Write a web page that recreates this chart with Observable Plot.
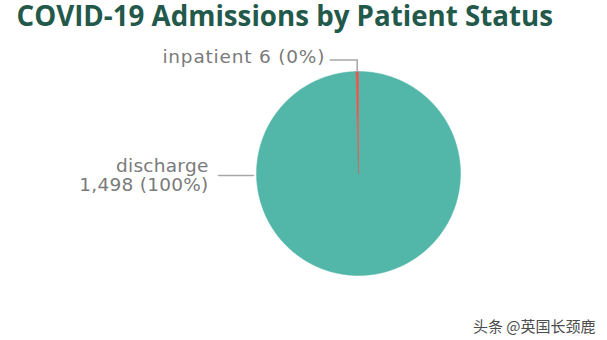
<!DOCTYPE html>
<html><head><meta charset="utf-8">
<script src="https://cdn.jsdelivr.net/npm/d3@7"></script>
<script src="https://cdn.jsdelivr.net/npm/@observablehq/plot@0.6"></script>
<style>html,body{margin:0;padding:0;background:#fff;}</style>
</head><body><div id="chart"></div>
<script>
// ---- data ----
const categories = ["discharge", "inpatient"];
const counts = [1498, 6];
const sliceColors = ["#52b7a9", "#e3574d"];
const title = "COVID-19 Admissions by Patient Status";
const watermark = "头条 @英国长颈鹿";

// ---- derived ----
const total = d3.sum(counts);
const rows = categories.map((c, i) => ({category: c, count: counts[i], pct: Math.round(counts[i] / total * 100)}));
const arcs = d3.pie().value(d => d.count).sort(null)(rows);

// pie centre (358,173) px, radius 102 px -> unit-radius domains
const W = 607, H = 340, R = 102, CX = 358, CY = 173;
const xDomain = [-CX / R, (W - CX) / R];
const yDomain = [-(H - CY) / R, CY / R];

function slicePolygon(a) {
  const n = Math.max(2, Math.ceil((a.endAngle - a.startAngle) / (Math.PI / 360)));
  const pts = [{x: 0, y: 0}];
  for (let k = 0; k <= n; k++) {
    const t = a.startAngle + (a.endAngle - a.startAngle) * k / n;
    pts.push({x: Math.sin(t), y: Math.cos(t)});
  }
  pts.push({x: 0, y: 0});
  return pts;
}

// label layout: small slice label above, large slice label at left
const labelInfo = arcs.map((a, i) => {
  const d = a.data;
  const countStr = d3.format(",")(d.count) + " (" + d.pct + "%)";
  if (i === 0) {
    const yy = -2 / R;
    const xe = -Math.sqrt(1 - yy * yy);
    return {
      line: [{x: xe - 3 / R, y: yy}, {x: xe - 38 / R, y: yy}],
      text: d.category + "\n" + countStr, tx: xe - 48 / R, ty: yy, ls: 0.25
    };
  } else {
    const m = (a.startAngle + a.endAngle) / 2;
    const ex = Math.sin(m), ey = Math.cos(m);
    const up = ey + 11.5 / R;
    return {
      line: [{x: ex, y: ey}, {x: ex, y: up}, {x: ex - 27 / R, y: up}],
      text: d.category + " " + countStr, tx: ex - 32 / R, ty: up + 2.5 / R, ls: 0.8
    };
  }
});

const font = "DejaVu Sans";
const marks = [];
arcs.forEach((a, i) => {
  marks.push(Plot.line(slicePolygon(a), {x: "x", y: "y", fill: sliceColors[i], stroke: sliceColors[i], strokeWidth: 0.5, curve: "linear"}));
});
labelInfo.forEach(l => {
  marks.push(Plot.line(l.line, {x: "x", y: "y", stroke: "#a6a6a6", strokeWidth: 1.5}));
  marks.push(Plot.text([l], {x: "tx", y: "ty", text: "text", textAnchor: "end", lineAnchor: "middle",
    fontSize: 18.5, lineHeight: 1.0, fill: "#7a7a7a", fontFamily: font,
    render(index, scales, values, dims, context, next) {
      const g = next(index, scales, values, dims, context);
      g.setAttribute("letter-spacing", l.ls);
      return g;
    }}));
});
marks.push(Plot.text([title], {frameAnchor: "top-left", dx: 16, dy: 6, lineAnchor: "top", textAnchor: "start",
  fontSize: 27.7, fontWeight: 700, fill: "#22594b", fontFamily: "Open Sans"}));
marks.push(Plot.text([watermark], {frameAnchor: "bottom-right", dx: -12, dy: -9, lineAnchor: "bottom", textAnchor: "end",
  fontSize: 15, fill: "#4d4d4d", fontFamily: "Noto Sans CJK SC", stroke: "white", strokeWidth: 3}));

const chart = Plot.plot({
  width: W, height: H,
  margin: 0,
  x: {domain: xDomain, axis: null},
  y: {domain: yDomain, axis: null},
  style: {background: "#fff"},
  marks
});
document.getElementById("chart").appendChild(chart);
</script>
</body></html>
